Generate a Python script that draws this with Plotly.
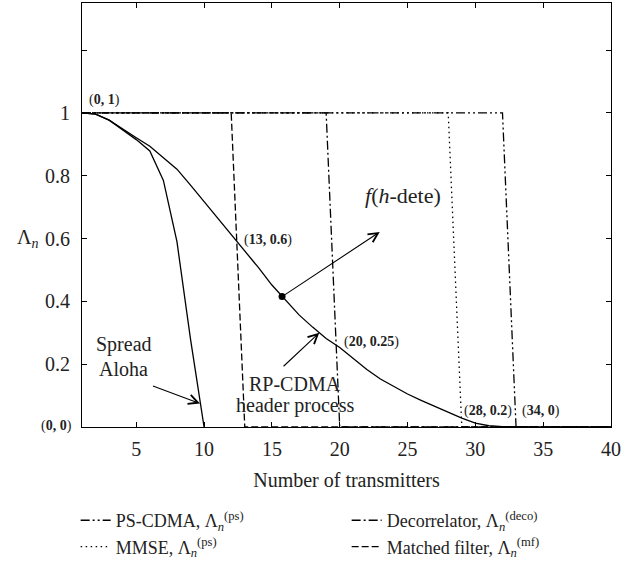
import numpy as np
import plotly.graph_objects as go

# Number of transmitters
n = list(range(1, 41))

# RP-CDMA header process success probability
rp_cdma = [1.0, 0.996, 0.977, 0.948, 0.921, 0.894, 0.858, 0.821, 0.770, 0.718,
           0.666, 0.614, 0.562, 0.508, 0.452, 0.403, 0.357, 0.318, 0.282, 0.253,
           0.218, 0.183, 0.153, 0.128, 0.105, 0.085, 0.066, 0.046, 0.028, 0.012,
           0.004, 0.001, 0.0, 0.0, 0.0, 0.0, 0.0, 0.0, 0.0, 0.0]

# Spread Aloha
aloha_n = list(range(1, 11))
aloha = [1.0, 0.996, 0.977, 0.945, 0.915, 0.879, 0.785, 0.590, 0.280, 0.0]

# Step-type capacities (corner points)
ps_n, ps_v = [1, 32, 33, 40], [1, 1, 0, 0]
deco_n, deco_v = [1, 19, 20, 40], [1, 1, 0, 0]
mmse_n, mmse_v = [1, 28, 29, 40], [1, 1, 0, 0]
mf_n, mf_v = [1, 12, 13, 40], [1, 1, 0, 0]

# Highlighted operating point on the RP-CDMA curve
dot_x = 15.75
dot_y = float(np.interp(dot_x, n, rp_cdma))

FONT = "Liberation Serif"
LW = 1.3

fig = go.Figure()

steps = [
    (ps_n, ps_v, "PS-CDMA, Λ<sub><i>n</i></sub><sup>(ps)</sup>", "9px,3px,2px,3px,2px,3px"),
    (deco_n, deco_v, "Decorrelator, Λ<sub><i>n</i></sub><sup>(deco)</sup>", "9px,3px,2px,3px"),
    (mmse_n, mmse_v, "MMSE, Λ<sub><i>n</i></sub><sup>(ps)</sup>", "1.5px,3.5px"),
    (mf_n, mf_v, "Matched filter, Λ<sub><i>n</i></sub><sup>(mf)</sup>", "7px,3px"),
]
for xs, ys, name, dash in steps:
    fig.add_trace(go.Scatter(x=xs, y=ys, mode="lines", name=name,
                             line=dict(color="black", width=LW, dash=dash)))

fig.add_trace(go.Scatter(x=n, y=rp_cdma, mode="lines", showlegend=False,
                         line=dict(color="black", width=LW)))
fig.add_trace(go.Scatter(x=aloha_n, y=aloha, mode="lines", showlegend=False,
                         line=dict(color="black", width=LW)))
fig.add_trace(go.Scatter(x=[dot_x], y=[dot_y], mode="markers", showlegend=False,
                         marker=dict(color="black", size=7)))

coord_font = dict(family=FONT, size=14, color="#222")
text_font = dict(family=FONT, size=20, color="#222")

ann = []
# coordinate labels
for txt, x, y in [("(<b>0, 1</b>)", 1.36, 1.04),
                  ("(<b>13, 0.6</b>)", 12.79, 0.594),
                  ("(<b>20, 0.25</b>)", 20.17, 0.271),
                  ("(<b>28, 0.2</b>)", 29.02, 0.05),
                  ("(<b>34, 0</b>)", 33.3, 0.05)]:
    ann.append(dict(text=txt, x=x, y=y, xref="x", yref="y", xanchor="left",
                    yanchor="middle", showarrow=False, font=coord_font))
ann.append(dict(text="(<b>0, 0</b>)", x=-0.016, y=0.002, xref="paper", yref="paper",
                xanchor="right", yanchor="middle", showarrow=False, font=coord_font))
# y-axis label
ann.append(dict(text="Λ<sub><i>n</i></sub>", x=-0.126, y=0.444, xref="paper", yref="paper",
                xanchor="left", yanchor="middle", showarrow=False,
                font=dict(family=FONT, size=20, color="#222")))
# curve labels
ann.append(dict(text="<i>f</i>(<i>h</i>-dete)", x=21.7, y=0.737, xref="x", yref="y",
                xanchor="left", yanchor="middle", showarrow=False,
                font=dict(family=FONT, size=22, color="#222")))
for txt, x, y in [("Spread", 4.07, 0.262),
                  ("Aloha", 4.07, 0.186),
                  ("RP-CDMA", 16.67, 0.138),
                  ("header process", 16.67, 0.067)]:
    ann.append(dict(text=txt, x=x, y=y, xref="x", yref="y", xanchor="center",
                    yanchor="middle", showarrow=False, font=text_font))
# arrows (head at x,y; tail at ax,ay)
for hx, hy, tx, ty in [(9.70, 0.075, 6.12, 0.132),
                       (18.49, 0.300, 15.75, 0.189),
                       (22.95, 0.621, dot_x, dot_y)]:
    ann.append(dict(text="", x=hx, y=hy, ax=tx, ay=ty, xref="x", yref="y",
                    axref="x", ayref="y", showarrow=True, arrowhead=5,
                    arrowsize=1.7, arrowwidth=1.1, arrowcolor="black", standoff=0,
                    startstandoff=0))

axis_common = dict(showline=True, linecolor="black", linewidth=1.2, mirror="ticks",
                   ticks="inside", ticklen=5, tickcolor="black", tickwidth=1.2,
                   showgrid=False, zeroline=False,
                   tickfont=dict(family=FONT, size=20, color="#222"))

fig.update_layout(
    width=633, height=562,
    margin=dict(l=82, r=22, t=3, b=135, autoexpand=False),
    paper_bgcolor="white", plot_bgcolor="white",
    font=dict(family=FONT, color="#222"),
    xaxis=dict(range=[1, 40], tickvals=[5, 10, 15, 20, 25, 30, 35, 40],
               title=dict(text="Number of transmitters",
                          font=dict(family=FONT, size=20, color="#222"), standoff=13),
               ticklabelstandoff=4, **axis_common),
    yaxis=dict(range=[0, 1.35], tickvals=[0, 0.2, 0.4, 0.6, 0.8, 1.0, 1.2],
               ticktext=["", "0.2", "0.4", "0.6", "0.8", "1", ""],
               ticklabelstandoff=7, **axis_common),
    legend=dict(orientation="h", x=-0.012, y=-0.177, xanchor="left", yanchor="top",
                entrywidth=226, entrywidthmode="pixels",
                font=dict(family=FONT, size=18, color="#222"),
                bgcolor="rgba(0,0,0,0)", tracegroupgap=0),
    annotations=ann,
)

fig.write_html("out.html")
